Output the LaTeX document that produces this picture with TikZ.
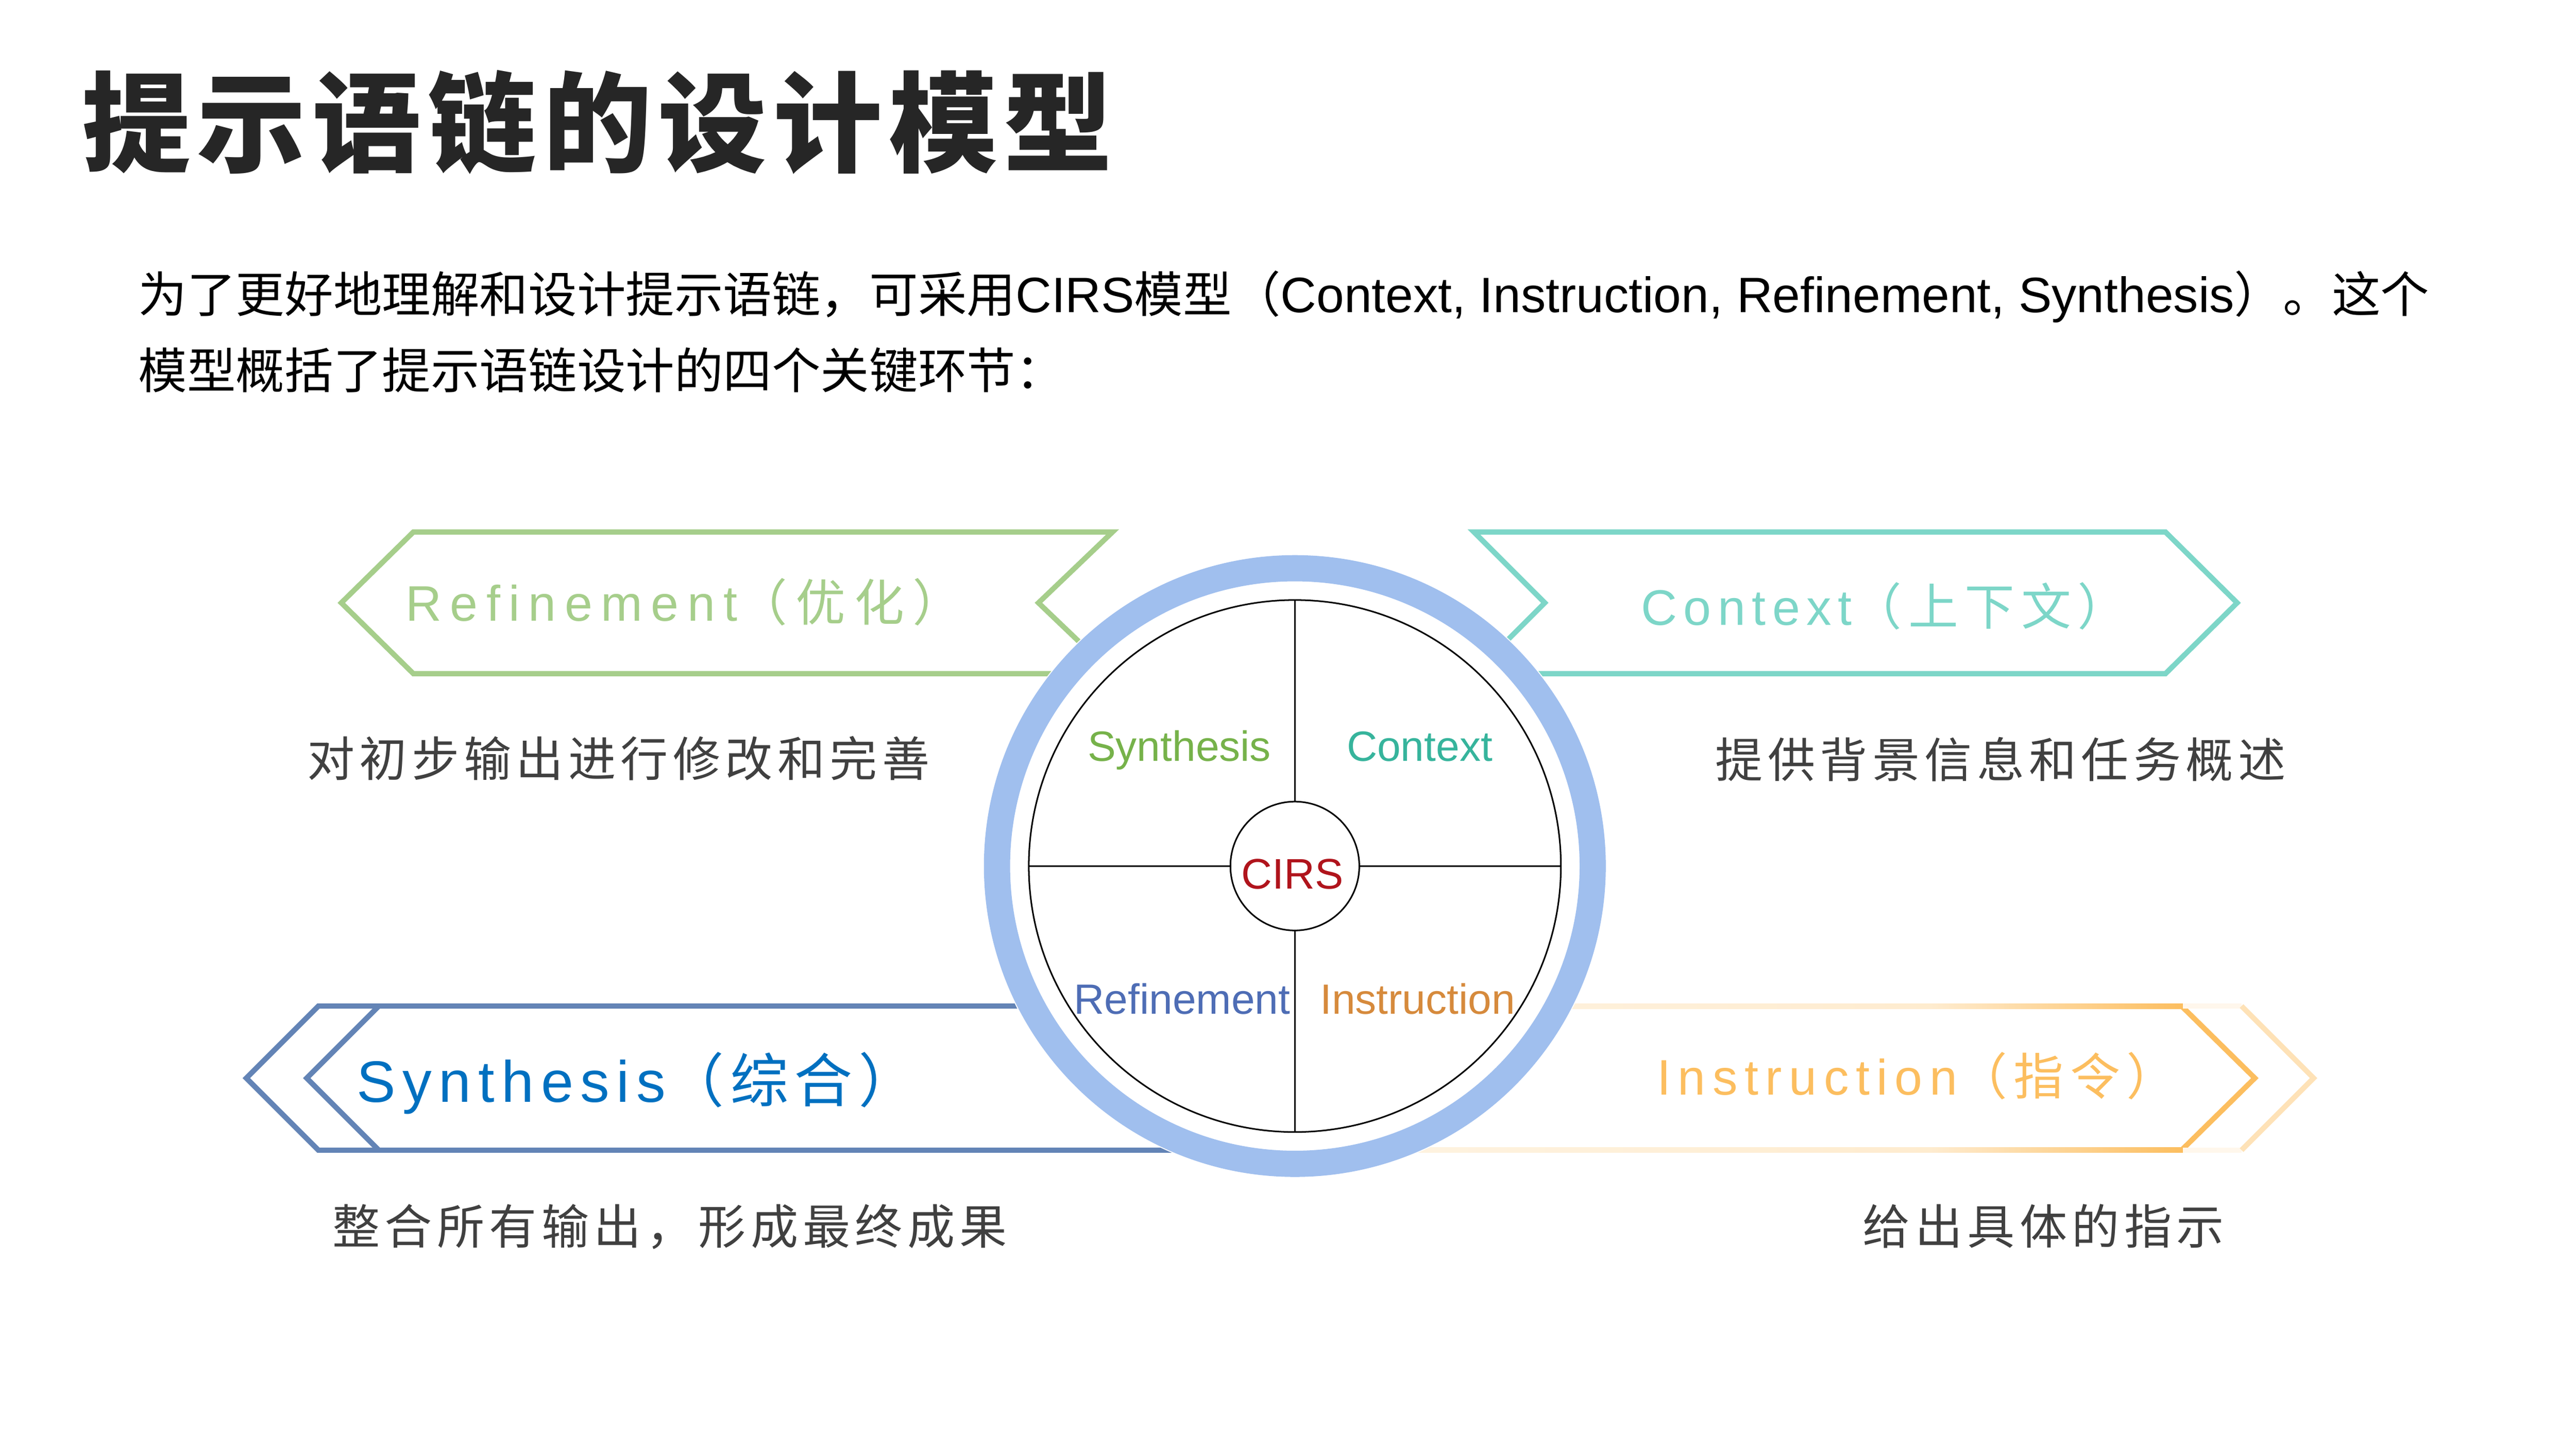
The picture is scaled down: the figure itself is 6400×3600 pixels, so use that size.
\documentclass[tikz,border=0pt]{standalone}
\usepackage{fontspec}
\setmainfont{Liberation Sans}
\newfontfamily\latf{Liberation Sans}
\newfontfamily\cjkf{Noto Sans CJK SC}
\usetikzlibrary{calc}
\definecolor{grn}{HTML}{A6CE8B}
\definecolor{tea}{HTML}{7DD6C8}
\definecolor{blu}{HTML}{6384B6}
\definecolor{org}{HTML}{FCBE5F}
\definecolor{ring}{HTML}{A0BFEE}
\definecolor{synlbl}{HTML}{0070C0}
\definecolor{desc}{HTML}{404040}
\definecolor{ttl}{HTML}{262626}
\definecolor{qsyn}{HTML}{76B24A}
\definecolor{qcon}{HTML}{36B49C}
\definecolor{qcirs}{HTML}{B0141C}
\definecolor{qref}{HTML}{4E6DB5}
\definecolor{qins}{HTML}{D68A3C}
\newcommand\pxs[1]{\fontsize{\fpeval{#1*0.28453}pt}{\fpeval{#1*0.34}pt}\selectfont}
\tikzset{
  txt/.style={inner sep=0pt, outer sep=0pt, anchor=base west},
  hexline/.style={line width=3.7pt, line join=miter},
  quad/.style={inner sep=0pt, anchor=base},
}
\begin{document}
\begin{tikzpicture}[x=0.01cm,y=-0.01cm]
\fill[white] (0,0) rectangle (6400,3600);
\useasboundingbox (0,0) rectangle (6400,3600);

% title and paragraph
\node[txt, text=ttl] (title) at (204,406) {\pxs{270}\cjkf\bfseries\addfontfeature{LetterSpace=6}提示语链的设计模型};
\node[txt, text=black] (p1) at (344,776) {{\pxs{121}\cjkf 为了更好地理解和设计提示语链，可采用}{\pxs{123.5}\latf CIRS}{\pxs{121}\cjkf 模型（}{\pxs{123.5}\latf Context, Instruction, Refinement, Synthesis}{\pxs{121}\cjkf ）。这个}};
\node[txt, text=black] (p2) at (344,966) {\pxs{121}\cjkf 模型概括了提示语链设计的四个关键环节：};

% Refinement hexagon (green)
\draw[hexline, grn] (848,1498) -- (1027,1322) -- (2764,1322) -- (2580,1498) -- (2764,1674) -- (1027,1674) -- cycle;
% Context hexagon (teal)
\draw[hexline, tea] (3662,1322) -- (5380,1322) -- (5558,1498) -- (5380,1674) -- (3662,1674) -- (3838,1498) -- cycle;
% Synthesis hexagon (blue)
\draw[hexline, blu] (3300,2500) -- (791,2500) -- (612,2679) -- (791,2858) -- (3300,2858);
\draw[hexline, blu] (941,2500) -- (762,2679) -- (941,2858);
% Instruction hexagon (orange, gradient)
\shade[left color=org!18, right color=org!30] (3300,2493.5) rectangle (4800,2506.5);
\shade[left color=org!30, right color=org] (4800,2493.5) rectangle (5423,2506.5);
\shade[left color=org!18, right color=org!30] (3300,2851.5) rectangle (4800,2864.5);
\shade[left color=org!30, right color=org] (4800,2851.5) rectangle (5423,2864.5);
\draw[hexline, org] (5420,2500) -- (5602,2679) -- (5420,2858);
\draw[hexline, org!12] (5423,2500) -- (5569,2500);
\draw[hexline, org!12] (5423,2858) -- (5569,2858);
\draw[hexline, org!45] (5569,2500) -- (5748,2679) -- (5569,2858);

% hexagon labels
\node[txt, text=grn] (lref) at (1008,1543) {\pxs{124}{\latf\addfontfeature{LetterSpace=17}Refinement}{\cjkf\addfontfeature{LetterSpace=17}（优化）}};
\node[txt, text=tea] (lcon) at (4077,1553) {\pxs{124}{\latf\addfontfeature{LetterSpace=13}Context}{\cjkf\addfontfeature{LetterSpace=13}（上下文）}};
\node[txt, text=synlbl] (lsyn) at (886,2738) {\pxs{145}{\latf\addfontfeature{LetterSpace=12}Synthesis}{\cjkf\addfontfeature{LetterSpace=10}（综合）}};
\node[txt, text=org] (lins) at (4117,2720) {\pxs{124}{\latf\addfontfeature{LetterSpace=14}Instruction}{\cjkf\addfontfeature{LetterSpace=13}（指令）}};

% descriptions
\node[txt, text=desc] (dref) at (763,1930) {\pxs{118}\cjkf\addfontfeature{LetterSpace=10}对初步输出进行修改和完善};
\node[txt, text=desc] (dcon) at (4262,1932) {\pxs{118}\cjkf\addfontfeature{LetterSpace=10}提供背景信息和任务概述};
\node[txt, text=desc] (dsyn) at (826,3092) {\pxs{118}\cjkf\addfontfeature{LetterSpace=10}整合所有输出，形成最终成果};
\node[txt, text=desc] (dins) at (4628,3092) {\pxs{118}\cjkf\addfontfeature{LetterSpace=10}给出具体的指示};

% central circle
\coordinate (c) at (3217,2152);
\fill[white] (c) circle (775);
\draw[ring, line width=18.5pt] (c) circle (740);
\draw[black, line width=1.1pt] (c) circle (661);
\node[circle, draw=black, line width=1.1pt, fill=white, minimum size=3.2cm, inner sep=0pt] (core) at (c) {};
\coordinate (top) at ($(c)+(0,-661)$);
\coordinate (bot) at ($(c)+(0,661)$);
\coordinate (lft) at ($(c)+(-661,0)$);
\coordinate (rgt) at ($(c)+(661,0)$);
\draw[black, line width=1.1pt] (core.north) -- (top);
\draw[black, line width=1.1pt] (core.south) -- (bot);
\draw[black, line width=1.1pt] (core.west) -- (lft);
\draw[black, line width=1.1pt] (core.east) -- (rgt);
\node[quad, text=qcirs] (qc) at (3211,2208) {\pxs{106}\latf CIRS};
\node[quad, text=qsyn] (qs) at (2930,1891) {\pxs{105}\latf Synthesis};
\node[quad, text=qcon] (qn) at (3527,1891) {\pxs{105}\latf Context};
\node[quad, text=qref] (qr) at (2937,2520) {\pxs{105}\latf Refinement};
\node[quad, text=qins] (qi) at (3522,2520) {\pxs{105}\latf Instruction};
\end{tikzpicture}
\end{document}
